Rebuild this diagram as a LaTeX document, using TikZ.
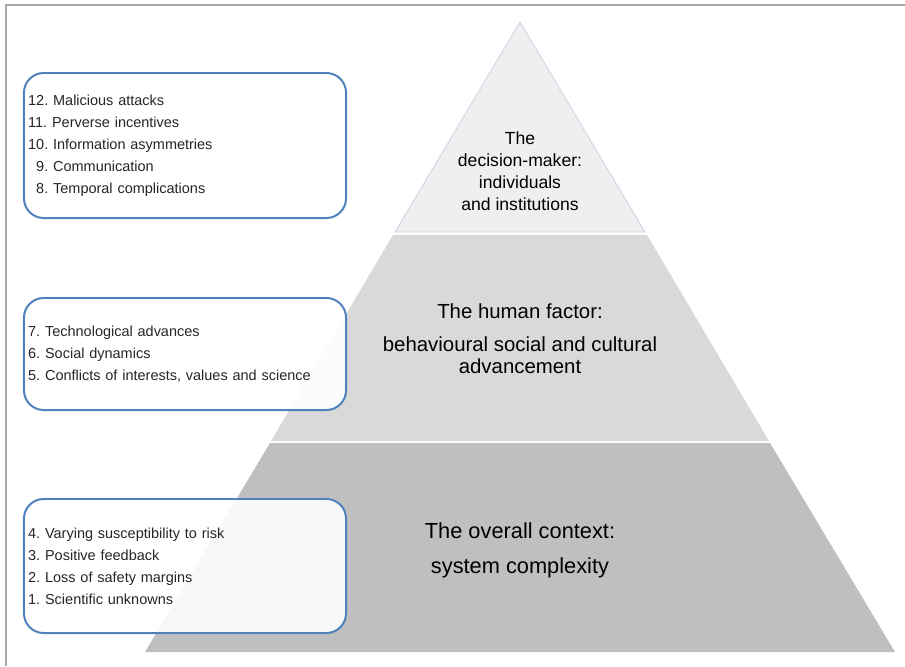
\documentclass[tikz,border=0pt]{standalone}
\usepackage{fontspec}
\setmainfont{Liberation Sans}
\frenchspacing
\definecolor{tiertop}{HTML}{EFEFEF}
\definecolor{tiermid}{HTML}{D9D9D9}
\definecolor{tierlow}{HTML}{BFBFBF}
\definecolor{tieredge}{HTML}{C9D5E6}
\definecolor{boxblue}{HTML}{4F81BD}
\definecolor{framegray}{HTML}{A6A6A6}
\begin{document}
\begin{tikzpicture}[x=0.025cm,y=-0.025cm,
  listbox/.style={draw=boxblue,line width=1.4pt,rounded corners=14pt,fill=white,
    fill opacity=0.9,text opacity=1,minimum width=8.05cm,text width=8.05cm-6pt,
    inner xsep=3pt,align=left,font=\fontsize{10.3}{15.6}\selectfont,text=black!85},
  tiertext/.style={align=center,font=\fontsize{14.5}{16}\selectfont}]
  \useasboundingbox (0,0) rectangle (905,666);
  \draw[framegray,line width=1pt] (6,666) -- (6,5) -- (905,5);

  % pyramid
  \fill[tierlow] (270,443) -- (770,443) -- (895,652) -- (145,652) -- cycle;
  \fill[tiermid] (393,235) -- (647,235) -- (769,441) -- (271,441) -- cycle;
  \filldraw[fill=tiertop,draw=tieredge,line width=0.6pt] (520,22) -- (645,232) -- (395,232) -- cycle;

  \node[align=center,font=\fontsize{12.5}{15.6}\selectfont] (T1) at (520,171)
    {The\\decision-maker:\\individuals\\and institutions};
  \node[tiertext] (T2) at (520,339)
    {The human factor:\\[7pt]behavioural social and cultural\\advancement};
  \node[tiertext,font=\fontsize{15.5}{17}\selectfont] (T3) at (520,550)
    {The overall context:\\[8pt]system complexity};

  % lists
  \node[listbox,minimum height=3.625cm] (L1) at (185,145.5)
    {12. Malicious attacks\\11. Perverse incentives\\10. Information asymmetries\\
     \hphantom{1}9. Communication\\\hphantom{1}8. Temporal complications};
  \node[listbox,minimum height=2.8cm] (L2) at (185,354)
    {7. Technological advances\\6. Social dynamics\\5. Conflicts of interests, values and science};
  \node[listbox,minimum height=3.35cm] (L3) at (185,566)
    {4. Varying susceptibility to risk\\3. Positive feedback\\2. Loss of safety margins\\1. Scientific unknowns};
\end{tikzpicture}
\end{document}
